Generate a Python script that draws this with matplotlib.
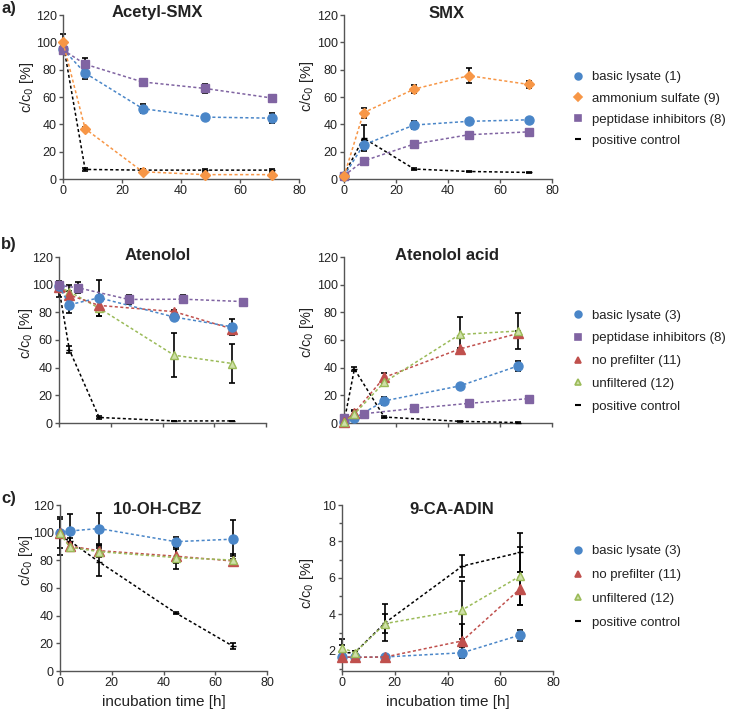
import matplotlib
matplotlib.use("Agg")
import matplotlib.pyplot as plt
from matplotlib.lines import Line2D
from matplotlib.ticker import MultipleLocator

plt.rcParams['font.family'] = ['Liberation Sans', 'DejaVu Sans']

# ── COLOURS / STYLES ──────────────────────────────────────────────────────────
BLUE   = "#4a86c8"
ORANGE = "#f79646"
PURPLE = "#8064a2"
RED    = "#c0504d"
GREEN  = "#9bbb59"
TXT    = "#222222"
AXC    = "#555555"

STYLE = {
    "basic":   dict(color=BLUE,   marker="o", ms=6.5, mfc=BLUE,      mec=BLUE),
    "ammon":   dict(color=ORANGE, marker="D", ms=5.0, mfc=ORANGE,    mec=ORANGE),
    "pept":    dict(color=PURPLE, marker="s", ms=5.5, mfc=PURPLE,    mec=PURPLE),
    "nopre":   dict(color=RED,    marker="^", ms=6.5, mfc=RED,       mec=RED),
    "unfilt":  dict(color=GREEN,  marker="^", ms=6.0, mfc="#cfe0a8", mec=GREEN),
    "pos":     dict(color="black", marker="_", ms=5.0, mfc="black",  mec="black"),
}

# ── DATA ──────────────────────────────────────────────────────────────────────
# a) Acetyl-SMX / SMX
t_a = [0, 7.5, 27, 48, 71]

acsmx_basic     = [95, 77.5, 51.5, 45.3, 44.5]
acsmx_basic_err = [2, 4, 3.5, 1.5, 3.5]
acsmx_ammon     = [100, 36.8, 5.3, 3.2, 3.2]
acsmx_ammon_err = [1, 1.5, 2, 1, 1]
acsmx_pept      = [94.5, 84, 71, 66.3, 59.2]
acsmx_pept_err  = [2, 4.5, 2, 3.5, 1.5]
acsmx_pos       = [100, 7, 6.5, 6.5, 6.5]
acsmx_pos_err   = [6, 1, 0.5, 0.5, 0.5]

smx_basic     = [2.2, 25, 39.5, 42.2, 43.3]
smx_basic_err = [1, 3.5, 3, 1, 1]
smx_ammon     = [2, 48.5, 65.8, 75.6, 69.2]
smx_ammon_err = [1, 3.5, 3, 5.5, 2.5]
smx_pept      = [2.5, 13.2, 25.6, 32.4, 34.5]
smx_pept_err  = [0.5, 1, 1, 1, 1]
smx_pos       = [3, 30, 7.3, 5.5, 4.8]
smx_pos_err   = [1, 9.5, 0.5, 0.5, 0.5]

# b) Atenolol / Atenolol acid
t_b      = [0, 4, 15.5, 44.5, 67]
t_b_pept = [0, 7.5, 27, 48, 71]

aten_basic      = [99, 85.5, 90.5, 76.6, 69.5]
aten_basic_err  = [2, 6, 13, 1.5, 6]
aten_pept       = [99.5, 97.7, 89.3, 89.5, 87.8]
aten_pept_err   = [1.5, 4, 3.5, 3, 2]
aten_nopre      = [98.5, 92.5, 85, 80.5, 68]
aten_nopre_err  = [2, 3, 4, 1.5, 3.5]
aten_unfilt     = [98, 95, 83, 49, 43]
aten_unfilt_err = [2, 5, 6, 16, 14]
aten_pos        = [97, 53, 4, 1.5, 1.5]
aten_pos_err    = [6, 2.7, 1, 0.3, 0.3]

acid_basic      = [0.5, 3.5, 16, 26.8, 41.3]
acid_basic_err  = [0.5, 1, 3, 1, 3.5]
acid_pept       = [3.7, 6.7, 10.5, 14.2, 17.6]
acid_pept_err   = [1.5, 0.5, 0.5, 0.5, 0.5]
acid_nopre      = [0.5, 7.5, 33, 53.5, 64.8]
acid_nopre_err  = [0.5, 2, 3, 1, 2]
acid_unfilt     = [0.5, 6.5, 29.5, 64, 66.5]
acid_unfilt_err = [0.5, 2, 1.5, 12.6, 12.7]
acid_pos        = [0.5, 39, 4.3, 1.2, 0.3]
acid_pos_err    = [0.3, 1.5, 0.5, 0.3, 0.3]

# c) 10-OH-CBZ / 9-CA-ADIN
t_c  = [0, 3.8, 15, 44.7, 66.8]
t_c2 = [0, 4.8, 16.4, 45.6, 67.5]

oh_basic      = [100, 101.2, 103, 93.5, 95.3]
oh_basic_err  = [11, 12.5, 11, 3.5, 14]
oh_nopre      = [100, 90.3, 87, 83, 79.5]
oh_nopre_err  = [2, 3, 4, 5, 3.5]
oh_unfilt     = [99.5, 89.5, 86.3, 82, 80.2]
oh_unfilt_err = [2, 3, 4, 8, 4.5]
oh_pos        = [97, 94, 79, 42, 18]
oh_pos_err    = [13, 2, 10, 1, 2]

ca_basic      = [1.67, 1.65, 1.67, 1.9, 2.87]
ca_basic_err  = [0.05, 0.05, 0.05, 0.3, 0.3]
ca_nopre      = [1.67, 1.65, 1.67, 2.55, 5.4]
ca_nopre_err  = [0.05, 0.05, 0.05, 0.9, 0.9]
ca_unfilt     = [2.18, 1.9, 3.5, 4.25, 6.1]
ca_unfilt_err = [0.5, 0.1, 0.5, 1.6, 1.6]
ca_pos        = [1.9, 1.9, 3.55, 6.65, 7.4]
ca_pos_err    = [0.4, 0.1, 1.0, 0.6, 1.05]

LABELS_A = ["basic lysate (1)", "ammonium sulfate (9)", "peptidase inhibitors (8)", "positive control"]
LABELS_B = ["basic lysate (3)", "peptidase inhibitors (8)", "no prefilter (11)", "unfiltered (12)", "positive control"]
LABELS_C = ["basic lysate (3)", "no prefilter (11)", "unfiltered (12)", "positive control"]

W, H = 729, 710


def add_ax(fig, left, top, right, bottom):
    """Axes from pixel box (origin top-left)."""
    ax = fig.add_axes([left / W, 1 - bottom / H, (right - left) / W, (bottom - top) / H])
    for s in ("top", "right"):
        ax.spines[s].set_visible(False)
    for s in ("left", "bottom"):
        ax.spines[s].set_color(AXC)
        ax.spines[s].set_linewidth(1.0)
    ax.tick_params(direction="out", length=3, width=1, color=AXC,
                   labelsize=9, labelcolor=TXT, pad=1.5)
    ax.tick_params(which="minor", direction="out", length=2, width=1, color=AXC)
    return ax


def draw(ax, t, y, err, key):
    st = STYLE[key]
    # error bars sit under the markers, so small ones are hidden like in Excel
    ax.errorbar(t, y, yerr=err, fmt="none", ecolor="black", elinewidth=1.2,
                capsize=2.2, capthick=1.2, zorder=2, clip_on=False)
    ax.plot(t, y, linestyle=(0, (2, 1.6)), lw=1.1, color=st["color"],
            marker=st["marker"], ms=st["ms"], mfc=st["mfc"], mec=st["mec"],
            mew=1.0, zorder=3, clip_on=False)


def legend(fig, ax, keys, labels, cy, spacing):
    handles = []
    for k in keys:
        st = STYLE[k]
        ms = st["ms"] * 0.75
        handles.append(Line2D([], [], linestyle="none", marker=st["marker"], ms=ms,
                              mfc=st["mfc"], mec=st["mec"], mew=1.2 if k != "pos" else 1.5))
    leg = ax.legend(handles, labels, loc="center left",
                    bbox_to_anchor=(571 / W, 1 - cy / H), bbox_transform=fig.transFigure,
                    frameon=False, fontsize=9.5, handlelength=1.0, handletextpad=0.6,
                    borderpad=0, borderaxespad=0, labelspacing=spacing, numpoints=1)
    for txt in leg.get_texts():
        txt.set_color(TXT)


def y_label(fig, x, y):
    fig.text(x / W, 1 - y / H, "c/c$_0$ [%]", rotation=90, ha="center", va="center",
             fontsize=10.5, color=TXT)


def title(fig, x, y, s):
    fig.text(x / W, 1 - y / H, s, ha="center", va="center", fontsize=12,
             fontweight="bold", color=TXT)


def main():
    fig = plt.figure(figsize=(W / 100, H / 100), dpi=100)

    # ── a) ────────────────────────────────────────────────────────────────────
    ax = add_ax(fig, 63, 15, 299, 179)
    draw(ax, t_a, acsmx_pos, acsmx_pos_err, "pos")
    draw(ax, t_a, acsmx_basic, acsmx_basic_err, "basic")
    draw(ax, t_a, acsmx_pept, acsmx_pept_err, "pept")
    draw(ax, t_a, acsmx_ammon, acsmx_ammon_err, "ammon")
    ax.set_xlim(0, 80); ax.set_ylim(0, 120)
    ax.xaxis.set_major_locator(MultipleLocator(20)); ax.yaxis.set_major_locator(MultipleLocator(20))
    title(fig, 157, 12, "Acetyl-SMX")
    y_label(fig, 27, 87)

    ax = add_ax(fig, 344, 15, 552, 179)
    draw(ax, t_a, smx_pos, smx_pos_err, "pos")
    draw(ax, t_a, smx_basic, smx_basic_err, "basic")
    draw(ax, t_a, smx_pept, smx_pept_err, "pept")
    draw(ax, t_a, smx_ammon, smx_ammon_err, "ammon")
    ax.set_xlim(0, 80); ax.set_ylim(0, 120)
    ax.xaxis.set_major_locator(MultipleLocator(20)); ax.yaxis.set_major_locator(MultipleLocator(20))
    title(fig, 447, 13, "SMX")
    y_label(fig, 307, 86)
    legend(fig, ax, ["basic", "ammon", "pept", "pos"], LABELS_A, 109, 0.68)

    # ── b) ────────────────────────────────────────────────────────────────────
    ax = add_ax(fig, 59, 257, 266, 423)
    draw(ax, t_b, aten_pos, aten_pos_err, "pos")
    draw(ax, t_b, aten_unfilt, aten_unfilt_err, "unfilt")
    draw(ax, t_b, aten_nopre, aten_nopre_err, "nopre")
    draw(ax, t_b, aten_basic, aten_basic_err, "basic")
    draw(ax, t_b_pept, aten_pept, aten_pept_err, "pept")
    ax.set_xlim(0, 80); ax.set_ylim(0, 120)
    ax.xaxis.set_major_locator(MultipleLocator(20)); ax.yaxis.set_major_locator(MultipleLocator(20))
    ax.tick_params(axis="x", labelbottom=False)
    title(fig, 158, 255, "Atenolol")
    y_label(fig, 26, 333)

    ax = add_ax(fig, 344, 257, 552, 423)
    draw(ax, t_b, acid_pos, acid_pos_err, "pos")
    draw(ax, t_b, acid_basic, acid_basic_err, "basic")
    draw(ax, t_b_pept, acid_pept, acid_pept_err, "pept")
    draw(ax, t_b, acid_nopre, acid_nopre_err, "nopre")
    draw(ax, t_b, acid_unfilt, acid_unfilt_err, "unfilt")
    ax.set_xlim(0, 80); ax.set_ylim(0, 120)
    ax.xaxis.set_major_locator(MultipleLocator(20)); ax.yaxis.set_major_locator(MultipleLocator(20))
    ax.tick_params(axis="x", labelbottom=False)
    title(fig, 447, 255, "Atenolol acid")
    y_label(fig, 307, 332)
    legend(fig, ax, ["basic", "pept", "nopre", "unfilt", "pos"], LABELS_B, 361, 0.8)

    # ── c) ────────────────────────────────────────────────────────────────────
    ax = add_ax(fig, 60, 505, 267, 671)
    draw(ax, t_c, oh_pos, oh_pos_err, "pos")
    draw(ax, t_c, oh_basic, oh_basic_err, "basic")
    draw(ax, t_c, oh_nopre, oh_nopre_err, "nopre")
    draw(ax, t_c, oh_unfilt, oh_unfilt_err, "unfilt")
    ax.set_xlim(0, 80); ax.set_ylim(0, 120)
    ax.xaxis.set_major_locator(MultipleLocator(20)); ax.yaxis.set_major_locator(MultipleLocator(20))
    ax.set_xlabel("incubation time [h]", fontsize=11, color=TXT, labelpad=4)
    title(fig, 157, 510, "10-OH-CBZ")
    y_label(fig, 26, 560)

    ax = add_ax(fig, 342, 505, 553, 671)
    draw(ax, t_c2, ca_pos, ca_pos_err, "pos")
    draw(ax, t_c2, ca_basic, ca_basic_err, "basic")
    draw(ax, t_c2, ca_nopre, ca_nopre_err, "nopre")
    draw(ax, t_c2, ca_unfilt, ca_unfilt_err, "unfilt")
    ax.set_xlim(0, 80); ax.set_ylim(0.9, 10)
    ax.xaxis.set_major_locator(MultipleLocator(20))
    ax.yaxis.set_major_locator(MultipleLocator(2))
    ax.yaxis.set_minor_locator(MultipleLocator(1))
    ax.set_xlabel("incubation time [h]", fontsize=11, color=TXT, labelpad=4)
    title(fig, 452, 510, "9-CA-ADIN")
    y_label(fig, 307, 583)
    legend(fig, ax, ["basic", "nopre", "unfilt", "pos"], LABELS_C, 587, 0.88)

    # panel letters
    for s, y in (("a)", 9), ("b)", 245), ("c)", 498)):
        fig.text(1 / W, 1 - y / H, s, ha="left", va="center", fontsize=12,
                 fontweight="bold", color=TXT)

    fig.savefig("out.png", dpi=100)
    plt.close(fig)


if __name__ == "__main__":
    main()
